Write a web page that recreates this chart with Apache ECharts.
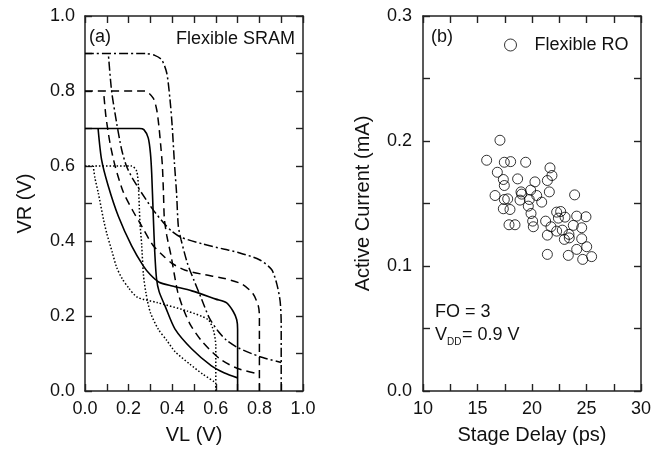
<!DOCTYPE html>
<html><head><meta charset="utf-8">
<script src="https://cdn.jsdelivr.net/npm/echarts@6/dist/echarts.min.js"></script>
<style>html,body{margin:0;padding:0;background:#fff}#c{width:665px;height:450px}</style>
</head><body><div id="c"></div>
<script>
// Panel (a): SRAM butterfly curves, [VL, VR] pairs (V)
const vdd06_A = [[0,0.6],[0.214,0.6],[0.237,0.586],[0.245,0.546],[0.252,0.45],[0.26,0.39],[0.268,0.31],[0.28,0.26],[0.30,0.209],[0.336,0.165],[0.375,0.135],[0.413,0.105],[0.48,0.072],[0.54,0.045],[0.6,0.022]];
const vdd06_B = [[0.6,0],[0.6,0.12],[0.59,0.16],[0.565,0.19],[0.47,0.213],[0.33,0.236],[0.24,0.25],[0.2,0.275],[0.17,0.30],[0.145,0.33],[0.125,0.37],[0.1,0.42],[0.085,0.457],[0.061,0.528],[0.045,0.57],[0.038,0.6]];
const vdd07_A = [[0,0.7],[0.25,0.7],[0.27,0.697],[0.29,0.675],[0.30,0.635],[0.306,0.58],[0.313,0.47],[0.32,0.37],[0.328,0.30],[0.34,0.265],[0.367,0.227],[0.413,0.165],[0.49,0.112],[0.58,0.067],[0.64,0.048],[0.70,0.035]];
const vdd07_B = [[0.7,0],[0.7,0.165],[0.696,0.19],[0.68,0.212],[0.65,0.235],[0.60,0.245],[0.49,0.267],[0.40,0.28],[0.34,0.29],[0.30,0.31],[0.268,0.333],[0.214,0.387],[0.153,0.466],[0.107,0.546],[0.076,0.617],[0.06,0.7]];
const vdd08_A = [[0,0.8],[0.275,0.8],[0.313,0.781],[0.329,0.75],[0.339,0.706],[0.349,0.644],[0.355,0.6],[0.36,0.528],[0.364,0.46],[0.375,0.415],[0.395,0.36],[0.41,0.31],[0.425,0.265],[0.45,0.22],[0.485,0.175],[0.54,0.13],[0.62,0.085],[0.70,0.06],[0.8,0.045]];
const vdd08_B = [[0.8,0],[0.8,0.2],[0.795,0.227],[0.77,0.26],[0.72,0.285],[0.64,0.30],[0.55,0.31],[0.46,0.322],[0.40,0.34],[0.36,0.36],[0.31,0.39],[0.25,0.45],[0.22,0.48],[0.176,0.53],[0.138,0.6],[0.115,0.66],[0.096,0.732],[0.085,0.8]];
const vdd09_A = [[0,0.9],[0.28,0.9],[0.32,0.895],[0.352,0.883],[0.375,0.848],[0.39,0.777],[0.40,0.706],[0.41,0.61],[0.42,0.528],[0.428,0.44],[0.44,0.405],[0.47,0.34],[0.50,0.295],[0.535,0.245],[0.57,0.195],[0.61,0.16],[0.65,0.135],[0.70,0.116],[0.80,0.092],[0.90,0.076]];
const vdd09_B = [[0.9,0],[0.9,0.18],[0.895,0.24],[0.88,0.285],[0.856,0.324],[0.80,0.35],[0.70,0.37],[0.64,0.378],[0.54,0.392],[0.44,0.41],[0.40,0.425],[0.367,0.444],[0.31,0.485],[0.26,0.528],[0.22,0.565],[0.19,0.6],[0.168,0.644],[0.145,0.715],[0.122,0.80],[0.107,0.9]];

// Panel (b): ring oscillator scatter
const stageDelay = [17.06,15.84,17.46,18.04,19.42,21.65,16.82,21.83,21.41,18.68,17.37,17.46,20.27,19.88,21.59,23.91,16.61,19.05,17.46,17.77,18.90,20.43,20.89,19.75,17.37,17.98,19.66,19.91,22.26,22.63,22.42,23.03,24.10,24.95,21.25,17.89,18.44,20.06,20.12,21.74,23.79,24.56,22.78,21.41,23.39,22.97,24.56,25.02,24.10,21.41,23.33,24.65,25.47,18.99,23.42,22.26];
const activeCurrent = [0.2006,0.1846,0.1830,0.1835,0.1830,0.1785,0.1750,0.1724,0.1684,0.1697,0.1692,0.1644,0.1673,0.1607,0.1593,0.1569,0.1564,0.1575,0.1532,0.1537,0.1527,0.1564,0.1511,0.1532,0.1458,0.1452,0.1479,0.1420,0.1431,0.1436,0.1383,0.1391,0.1399,0.1394,0.1359,0.1330,0.1330,0.1359,0.1314,0.1314,0.1325,0.1306,0.1287,0.1247,0.1253,0.1213,0.1218,0.1154,0.1133,0.1093,0.1085,0.1053,0.1075,0.1593,0.1225,0.1279];

const xTicksA = {min:0, max:1, interval:0.2};
const yTicksA = {min:0, max:1, interval:0.2};
const xTicksB = {min:10, max:30, interval:5};
const yTicksB = {min:0, max:0.3, interval:0.1};

const FONT = '"Liberation Sans", Arial, sans-serif';
const AX = '#222';
function axisBase(extra){
  return Object.assign({
    type:'value',
    axisLine:{show:true, onZero:false, lineStyle:{color:AX, width:1.5}},
    axisTick:{show:true, inside:true, length:7, lineStyle:{color:AX, width:1.4}},
    minorTick:{show:true, splitNumber:2, length:7, lineStyle:{color:AX, width:1.4}},
    splitLine:{show:false},
    axisLabel:{show:true, color:'#111', fontSize:18, fontFamily:FONT},
    nameTextStyle:{color:'#111', fontSize:20, fontFamily:FONT},
  }, extra);
}
const fmt1 = v => v.toFixed(1);

const lineDefs = [
  [vdd06_A,[1.5,2]],[vdd06_B,[1.5,2]],
  [vdd07_A,'solid'],[vdd07_B,'solid'],
  [vdd08_A,[8,5]],[vdd08_B,[8,5]],
  [vdd09_A,[9,3,2,3]],[vdd09_B,[9,3,2,3]]
];
const lineSeries = lineDefs.map(([d,t],i)=>({
  type:'line', xAxisIndex:0, yAxisIndex:0, data:d, showSymbol:false, smooth:0.25,
  lineStyle:{color:'#000', width: t==='solid'?1.6:1.5, type:t}, silent:true
}));

const option = {
  animation:false,
  grid:[
    {left:85, right:362, top:16, bottom:58},
    {left:423, right:24, top:16, bottom:58}
  ],
  xAxis:[
    axisBase(Object.assign({gridIndex:0, position:'bottom', name:'VL (V)', nameLocation:'middle', nameGap:34,
      axisLabel:{fontSize:18, fontFamily:FONT, color:'#111', margin:9, formatter:fmt1}}, xTicksA)),
    axisBase(Object.assign({gridIndex:0, position:'top', axisLabel:{show:false}}, xTicksA)),
    axisBase(Object.assign({gridIndex:1, position:'bottom', name:'Stage Delay (ps)', nameLocation:'middle', nameGap:34,
      axisLabel:{fontSize:18, fontFamily:FONT, color:'#111', margin:9}}, xTicksB)),
    axisBase(Object.assign({gridIndex:1, position:'top', axisLabel:{show:false}}, xTicksB))
  ],
  yAxis:[
    axisBase(Object.assign({gridIndex:0, position:'left', name:'VR (V)', nameLocation:'middle', nameGap:50,
      axisLabel:{fontSize:18, fontFamily:FONT, color:'#111', margin:10, formatter:fmt1}}, yTicksA)),
    axisBase(Object.assign({gridIndex:0, position:'right', axisLabel:{show:false}}, yTicksA)),
    axisBase(Object.assign({gridIndex:1, position:'left', name:'Active Current (mA)', nameLocation:'middle', nameGap:50,
      axisLabel:{fontSize:18, fontFamily:FONT, color:'#111', margin:11, formatter:fmt1}}, yTicksB)),
    axisBase(Object.assign({gridIndex:1, position:'right', axisLabel:{show:false}}, yTicksB))
  ],
  legend:{
    data:['Flexible RO'], left:499, top:31, icon:'circle', itemWidth:26, itemHeight:12,
    itemStyle:{color:'rgba(255,255,255,0)', borderColor:'#000', borderWidth:1},
    textStyle:{fontSize:18, fontFamily:FONT, color:'#111', padding:[0,0,0,6]}
  },
  series: lineSeries.concat([{
    name:'Flexible RO', type:'scatter', xAxisIndex:2, yAxisIndex:2,
    data: stageDelay.map((x,i)=>[x, activeCurrent[i]]),
    symbol:'circle', symbolSize:10,
    itemStyle:{color:'rgba(255,255,255,0)', borderColor:'#000', borderWidth:1}
  }]),
  graphic:[
    {type:'text', left:89, top:28, style:{text:'(a)', fontSize:18, fontFamily:FONT, fill:'#111'}},
    {type:'text', right:370, top:30, style:{text:'Flexible SRAM', fontSize:18, fontFamily:FONT, fill:'#111'}},
    {type:'text', left:431, top:28, style:{text:'(b)', fontSize:18, fontFamily:FONT, fill:'#111'}},
    {type:'text', left:435, top:303, style:{text:'FO = 3', fontSize:18, fontFamily:FONT, fill:'#111'}},
    {type:'text', left:435, top:326, style:{text:'V', fontSize:18, fontFamily:FONT, fill:'#111'}},
    {type:'text', left:447, top:337, style:{text:'DD', fontSize:10, fontFamily:FONT, fill:'#111'}},
    {type:'text', left:462, top:326, style:{text:'= 0.9 V', fontSize:18, fontFamily:FONT, fill:'#111'}}
  ]
};
echarts.init(document.getElementById('c')).setOption(option);
</script></body></html>
